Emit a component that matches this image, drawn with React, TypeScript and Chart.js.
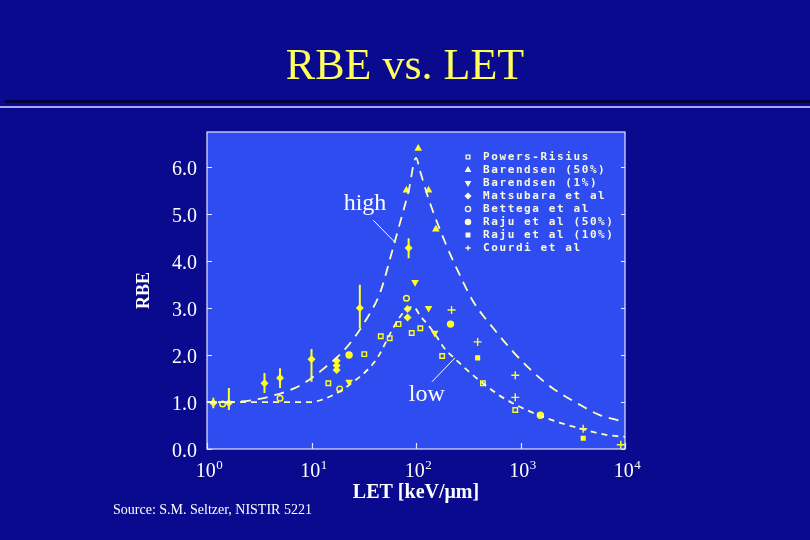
import React, { useEffect, useRef } from "react";
import { Chart, registerables } from "chart.js";
import { drawPoint } from "chart.js/helpers";

Chart.register(...registerables);

// ---------- data ----------
const xTickValues = [1, 10, 100, 1000, 10000];
const xTickBase = "10";
const xTickExponents = ["0", "1", "2", "3", "4"];
const yTickValues = [0, 1, 2, 3, 4, 5, 6];

const highCurveLET = [1, 1.58, 2.7, 4.0, 6.8, 9.3, 12.9, 21.4, 32.4, 45.7, 58.9, 70.8, 85.1, 100, 110, 135, 195, 263, 355, 550, 851, 1318, 2042, 3715, 5754, 8318, 10000];
const highCurveRBE = [1.0, 1.0, 1.04, 1.12, 1.29, 1.46, 1.7, 2.15, 2.71, 3.35, 4.2, 4.84, 5.5, 6.2, 5.9, 5.26, 4.34, 3.7, 3.13, 2.57, 2.07, 1.64, 1.29, 0.94, 0.72, 0.62, 0.58];

const lowCurveLET = [1, 3.16, 10, 12.6, 16.2, 20.4, 25.1, 33.1, 42.7, 60.3, 75.9, 93.3, 112, 135, 158, 186, 234, 309, 437, 661, 1148, 2239, 3981, 6607, 10000];
const lowCurveRBE = [1.0, 1.0, 1.0, 1.05, 1.15, 1.28, 1.43, 1.65, 1.94, 2.57, 2.91, 3.03, 2.81, 2.6, 2.39, 2.15, 1.93, 1.68, 1.4, 1.11, 0.83, 0.58, 0.42, 0.3, 0.26];

const powersLET = [14.5, 32, 46, 56, 68, 91, 110, 178, 437, 891];
const powersRBE = [1.4, 2.02, 2.4, 2.36, 2.66, 2.47, 2.57, 1.98, 1.4, 0.83];

const barendsen50LET = [81, 105, 132, 155];
const barendsen50RBE = [5.51, 6.4, 5.51, 4.68];

const barendsen1LET = [22.9, 98, 132, 151];
const barendsen1RBE = [1.43, 3.55, 3.0, 2.47];

const matsubaraLET = [1.15, 1.62, 3.55, 5.0, 10, 17.4, 17.4, 17.4, 29, 83, 83, 85];
const matsubaraRBE = [0.98, 0.98, 1.4, 1.51, 1.91, 1.68, 1.78, 1.88, 3.0, 2.8, 2.98, 4.28];

const bettegaLET = [1.41, 5.0, 18.6, 81];
const bettegaRBE = [0.96, 1.08, 1.28, 3.21];

const raju50LET = [22.9, 214, 1549];
const raju50RBE = [2.0, 2.66, 0.72];

const raju10LET = [389, 3981];
const raju10RBE = [1.94, 0.23];

const courdiLET = [219, 389, 891, 891, 3981, 9120];
const courdiRBE = [2.96, 2.28, 1.57, 1.1, 0.43, 0.09];

// error bars (Matsubara et al)
const errLET = [1.15, 1.62, 3.55, 5.0, 10, 29, 85];
const errLow = [0.87, 0.83, 1.19, 1.3, 1.43, 2.57, 4.06];
const errHigh = [1.09, 1.3, 1.62, 1.72, 2.13, 3.5, 4.49];

const legendLabels = [
  "Powers-Risius",
  "Barendsen (50%)",
  "Barendsen (1%)",
  "Matsubara et al",
  "Bettega et al",
  "Raju et al (50%)",
  "Raju et al (10%)",
  "Courdi et al",
];

// ---------- styles ----------
const BG = "#0a0a8e";
const PLOT_BG = "#2e4cf0";
const YELLOW = "#ffff22";
const CURVE = "#ffffb8";
const WHITE = "#ffffff";
const SERIF = "'Liberation Serif', 'Times New Roman', serif";

const toXY = (xs: number[], ys: number[]) => xs.map((x, i) => ({ x, y: ys[i] }));

type Marker = { pointStyle: string; rotation: number; radius: number; hollow: boolean };
const markers: Marker[] = [
  { pointStyle: "rect", rotation: 0, radius: 3.2, hollow: true },
  { pointStyle: "triangle", rotation: 0, radius: 3, hollow: false },
  { pointStyle: "triangle", rotation: 180, radius: 3, hollow: false },
  { pointStyle: "rectRot", rotation: 0, radius: 3, hollow: false },
  { pointStyle: "circle", rotation: 0, radius: 2.8, hollow: true },
  { pointStyle: "circle", rotation: 0, radius: 3, hollow: false },
  { pointStyle: "rect", rotation: 0, radius: 2.6, hollow: false },
  { pointStyle: "cross", rotation: 0, radius: 4, hollow: false },
];

const seriesData = [
  toXY(powersLET, powersRBE),
  toXY(barendsen50LET, barendsen50RBE),
  toXY(barendsen1LET, barendsen1RBE),
  toXY(matsubaraLET, matsubaraRBE),
  toXY(bettegaLET, bettegaRBE),
  toXY(raju50LET, raju50RBE),
  toXY(raju10LET, raju10RBE),
  toXY(courdiLET, courdiRBE),
];

const notes = [
  { text: "high", LET: 32.5, RBE: 5.085, fromLET: 39, fromRBE: 4.87, toLET: 63, toRBE: 4.4 },
  { text: "low", LET: 127, RBE: 1.02, fromLET: 142, fromRBE: 1.43, toLET: 236, toRBE: 1.94 },
];

const decor = {
  id: "decor",
  beforeDraw(chart: any) {
    const { ctx, chartArea: a } = chart;
    ctx.save();
    ctx.fillStyle = PLOT_BG;
    ctx.fillRect(a.left, a.top, a.right - a.left, a.bottom - a.top);
    ctx.fillStyle = "#00003e";
    ctx.fillRect(5, 100, 805, 3);
    ctx.fillStyle = "#a8a8e6";
    ctx.fillRect(0, 106, 810, 2);
    ctx.restore();
  },
  beforeDatasetsDraw(chart: any) {
    const { ctx, chartArea: a, scales } = chart;
    const xs = scales.x;
    const ys = scales.y;
    ctx.save();
    // frame
    ctx.strokeStyle = "#e6e6ff";
    ctx.lineWidth = 1.2;
    ctx.strokeRect(a.left, a.top, a.right - a.left, a.bottom - a.top);
    // inner ticks
    ctx.beginPath();
    yTickValues.forEach((v) => {
      const py = Math.round(ys.getPixelForValue(v)) + 0.5;
      ctx.moveTo(a.left, py);
      ctx.lineTo(a.left + 5, py);
      ctx.moveTo(a.right, py);
      ctx.lineTo(a.right - 4, py);
    });
    xTickValues.forEach((v) => {
      const px = Math.round(xs.getPixelForValue(v)) + 0.5;
      ctx.moveTo(px, a.bottom);
      ctx.lineTo(px, a.bottom - 6);
    });
    ctx.stroke();
    // error bars
    ctx.strokeStyle = YELLOW;
    ctx.lineWidth = 2;
    ctx.beginPath();
    errLET.forEach((l, i) => {
      const px = xs.getPixelForValue(l);
      ctx.moveTo(px, ys.getPixelForValue(errLow[i]));
      ctx.lineTo(px, ys.getPixelForValue(errHigh[i]));
    });
    ctx.stroke();
    ctx.restore();
  },
  afterDraw(chart: any) {
    const { ctx, chartArea: a, scales } = chart;
    const xs = scales.x;
    const ys = scales.y;
    ctx.save();
    // x tick labels with superscript exponents
    ctx.fillStyle = WHITE;
    ctx.textBaseline = "alphabetic";
    ctx.textAlign = "left";
    xTickValues.forEach((v, i) => {
      ctx.font = `20px ${SERIF}`;
      const wBase = ctx.measureText(xTickBase).width;
      ctx.font = `13px ${SERIF}`;
      const wExp = ctx.measureText(xTickExponents[i]).width;
      const left = xs.getPixelForValue(v) - (wBase + wExp) / 2 + 2;
      const base = a.bottom + 28;
      ctx.font = `20px ${SERIF}`;
      ctx.fillText(xTickBase, left, base);
      ctx.font = `13px ${SERIF}`;
      ctx.fillText(xTickExponents[i], left + wBase + 0.5, base - 8);
    });
    // legend
    ctx.font = `bold 11px 'DejaVu Sans Mono', monospace`;
    (ctx as any).letterSpacing = "1.6px";
    ctx.textBaseline = "middle";
    ctx.textAlign = "left";
    legendLabels.forEach((lab, i) => {
      const y = a.top + 25 + i * 13;
      const m = markers[i];
      ctx.strokeStyle = "#fbfbd8";
      ctx.fillStyle = m.hollow ? PLOT_BG : "#fbfbd8";
      ctx.lineWidth = 1.3;
      drawPoint(ctx, { pointStyle: m.pointStyle as any, rotation: m.rotation, radius: 2.6, borderWidth: 1.3 }, a.left + 261, y);
      ctx.fillStyle = "#f8f8dc";
      ctx.fillText(lab, a.left + 276, y);
    });
    (ctx as any).letterSpacing = "0px";
    // annotations
    ctx.fillStyle = WHITE;
    ctx.strokeStyle = WHITE;
    ctx.lineWidth = 1;
    ctx.font = `24px ${SERIF}`;
    ctx.textAlign = "center";
    ctx.textBaseline = "alphabetic";
    notes.forEach((n) => {
      ctx.fillText(n.text, xs.getPixelForValue(n.LET), ys.getPixelForValue(n.RBE));
      ctx.beginPath();
      ctx.moveTo(xs.getPixelForValue(n.fromLET), ys.getPixelForValue(n.fromRBE));
      ctx.lineTo(xs.getPixelForValue(n.toLET), ys.getPixelForValue(n.toRBE));
      ctx.stroke();
    });
    // source
    ctx.font = `14px ${SERIF}`;
    ctx.textAlign = "left";
    ctx.textBaseline = "middle";
    ctx.fillText("Source: S.M. Seltzer, NISTIR 5221", 113, 510);
    ctx.restore();
  },
};

export default function App() {
  const ref = useRef<HTMLCanvasElement>(null);
  useEffect(() => {
    if (!ref.current) return;
    const datasets: any[] = [
      {
        label: "high",
        data: toXY(highCurveLET, highCurveRBE),
        borderColor: CURVE,
        borderWidth: 1.8,
        borderDash: [10, 7],
        pointRadius: 0,
        cubicInterpolationMode: "monotone",
        fill: false,
      },
      {
        label: "low",
        data: toXY(lowCurveLET, lowCurveRBE),
        borderColor: CURVE,
        borderWidth: 1.8,
        borderDash: [6, 5],
        pointRadius: 0,
        cubicInterpolationMode: "monotone",
        fill: false,
      },
      ...seriesData.map((d, i) => ({
        label: legendLabels[i],
        data: d,
        showLine: false,
        pointStyle: markers[i].pointStyle,
        rotation: markers[i].rotation,
        pointRadius: markers[i].radius,
        pointBorderWidth: 1.4,
        borderColor: YELLOW,
        backgroundColor: markers[i].hollow ? PLOT_BG : YELLOW,
        pointBackgroundColor: markers[i].hollow ? PLOT_BG : YELLOW,
        pointBorderColor: YELLOW,
      })),
    ];
    const chart = new Chart(ref.current, {
      type: "line",
      data: { datasets },
      plugins: [decor],
      options: {
        animation: false,
        responsive: false,
        devicePixelRatio: 1,
        layout: { padding: { left: 0, right: 0, top: 0, bottom: 0 } },
        plugins: {
          legend: { display: false },
          tooltip: { enabled: false },
          title: {
            display: true,
            text: "RBE vs. LET",
            color: "#ffff5a",
            font: { family: SERIF, size: 44, weight: "normal", lineHeight: 1.2 },
            padding: { top: 41, bottom: 38.2 },
          },
        },
        scales: {
          x: {
            type: "logarithmic",
            min: 1,
            max: 10000,
            grid: { display: false, drawTicks: false },
            border: { display: false },
            afterFit: (s: any) => {
              s.height = 91;
            },
            ticks: { display: false },
            title: {
              display: true,
              text: "LET [keV/μm]",
              color: WHITE,
              font: { family: SERIF, size: 20, weight: "bold" },
              padding: { top: 0, bottom: 35 },
            },
          },
          y: {
            type: "linear",
            min: 0,
            max: 6.75,
            grid: { display: false, drawTicks: false },
            border: { display: false },
            afterFit: (s: any) => {
              s.width = 207;
            },
            ticks: {
              stepSize: 1,
              includeBounds: false,
              padding: 10,
              labelOffset: 3,
              color: WHITE,
              font: { family: SERIF, size: 20 },
              callback: (v: any) => Number(v).toFixed(1),
            },
            title: {
              display: true,
              text: "RBE",
              color: WHITE,
              font: { family: SERIF, size: 18, weight: "bold" },
              padding: { top: 134, bottom: 0 },
            },
          },
          yRight: {
            type: "linear",
            position: "right",
            display: true,
            grid: { display: false, drawTicks: false },
            border: { display: false },
            ticks: { display: false },
            afterFit: (s: any) => {
              s.width = 185;
            },
          },
        },
      } as any,
    });
    return () => chart.destroy();
  }, []);
  return (
    <div style={{ position: "fixed", left: 0, top: 0, width: 810, height: 540, background: BG }}>
      <canvas ref={ref} width={810} height={540} style={{ display: "block", width: 810, height: 540 }} />
    </div>
  );
}
